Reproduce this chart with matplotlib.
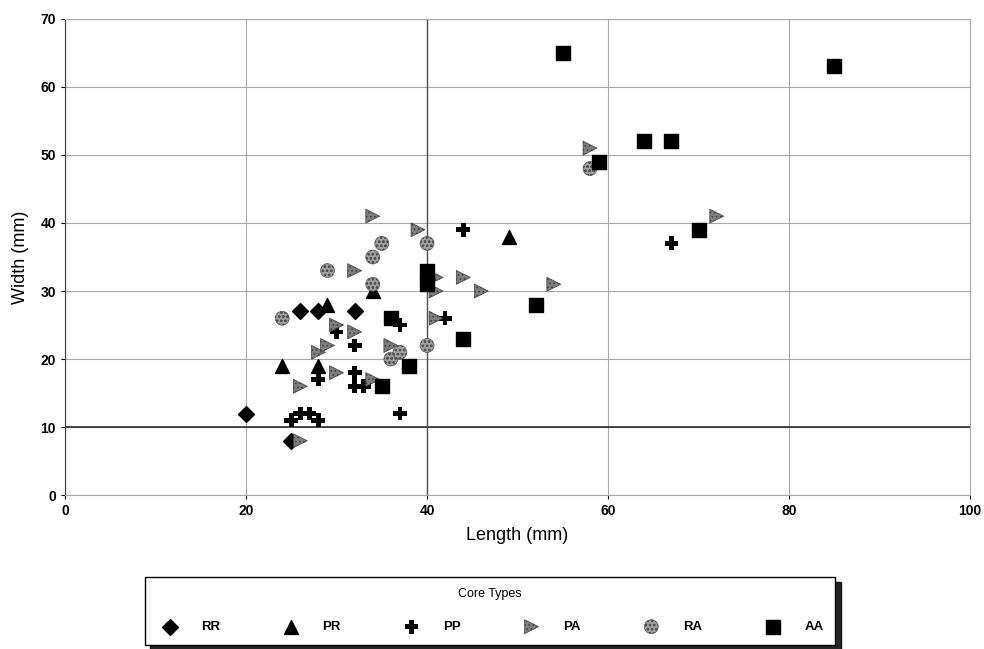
import matplotlib
matplotlib.use('Agg')
from matplotlib import pyplot as plt

plt.rcParams['font.family'] = ['Liberation Sans', 'DejaVu Sans']
plt.rcParams['hatch.linewidth'] = 0.6

# 数据：长度 (mm), 宽度 (mm)
rr_x = [20, 26, 28, 32, 25]
rr_y = [12, 27, 27, 27, 8]

pr_x = [24, 28, 29, 34, 49]
pr_y = [19, 19, 28, 30, 38]

pp_x = [25, 26, 27, 28, 28, 30, 32, 32, 32, 33, 37, 37, 42, 44, 67]
pp_y = [11, 12, 12, 11, 17, 24, 22, 18, 16, 16, 25, 12, 26, 39, 37]

pa_x = [26, 26, 28, 29, 30, 30, 32, 34, 36, 32, 34, 39, 41, 41, 44, 46, 41, 54, 58, 72]
pa_y = [8, 16, 21, 22, 18, 25, 24, 17, 22, 33, 41, 39, 32, 30, 32, 30, 26, 31, 51, 41]

ra_x = [24, 29, 34, 34, 35, 40, 40, 36, 37, 58]
ra_y = [26, 33, 31, 35, 37, 37, 22, 20, 21, 48]

aa_x = [55, 85, 64, 67, 59, 70, 52, 44, 40, 40, 36, 38, 35]
aa_y = [65, 63, 52, 52, 49, 39, 28, 23, 33, 31, 26, 19, 16]

fig = plt.figure(figsize=(9.84, 6.49), dpi=100)
ax = fig.add_axes([0.066, 0.237, 0.92, 0.734])

# 网格
ax.set_axisbelow(True)
ax.grid(True, color='#a8a8a8', linewidth=0.8)
ax.axhline(10, color='#202020', linewidth=1.1, zorder=1.5)
ax.axvline(40, color='#505050', linewidth=1.0, zorder=1.5)

ax.scatter(rr_x, rr_y, marker='D', s=65, color='black', label='RR', zorder=3)
ax.scatter(pr_x, pr_y, marker='^', s=100, color='black', label='PR', zorder=3)
ax.scatter(pp_x, pp_y, marker='P', s=100, color='black', edgecolor='none', label='PP', zorder=3)
ax.scatter(pa_x, pa_y, marker='>', s=100, facecolor='#7e7e7e', edgecolor='#3a3a3a',
           hatch='....', linewidth=0.5, label='PA', zorder=3)
ax.scatter(ra_x, ra_y, marker='o', s=100, facecolor='#a0a0a0', edgecolor='#505050',
           hatch='oooo', linewidth=0.5, label='RA', zorder=3)
ax.scatter(aa_x, aa_y, marker='s', s=115, color='black', label='AA', zorder=4)

ax.set_xlim(0, 100)
ax.set_ylim(0, 70)
ax.set_xticks(range(0, 101, 20))
ax.set_yticks(range(0, 71, 10))
ax.tick_params(length=3, labelsize=10)
for lab in ax.get_xticklabels() + ax.get_yticklabels():
    lab.set_fontweight('bold')
for s in ['top', 'right', 'bottom']:
    ax.spines[s].set_color('#a8a8a8')
ax.spines['left'].set_color('#404040')

ax.set_xlabel('Length (mm)', fontsize=13, labelpad=6)
ax.set_ylabel('Width (mm)', fontsize=13, labelpad=8)

leg = fig.legend(loc='lower center', bbox_to_anchor=(0.498, -0.004), ncol=6,
                 title='Core Types\n', title_fontsize=9, fontsize=9.5,
                 frameon=True, fancybox=False,
                 shadow={'color': 'black', 'alpha': 0.85, 'ox': 4, 'oy': -4},
                 edgecolor='black',
                 handletextpad=1.4, columnspacing=4.35, borderpad=0.9,
                 markerscale=1.0)
leg.get_frame().set_linewidth(1.0)
for t in leg.get_texts():
    t.set_fontweight('bold')

plt.savefig('out.png', dpi=100)
